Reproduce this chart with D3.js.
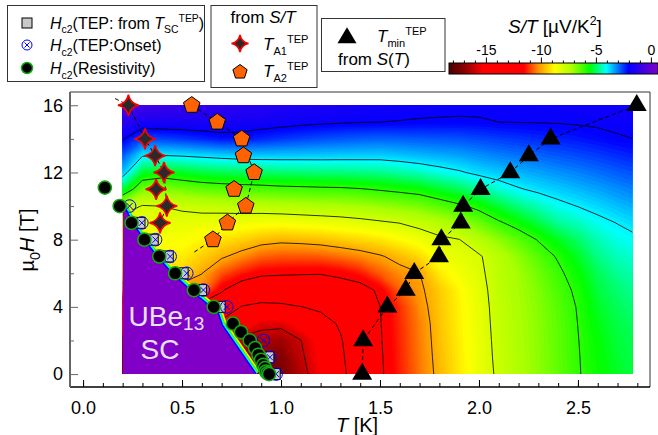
<!DOCTYPE html>
<html><head><meta charset="utf-8">
<script src="https://cdn.jsdelivr.net/npm/d3@7/dist/d3.min.js"></script>
<style>
body{margin:0;background:#fff;}
svg{display:block;}
text{font-family:"Liberation Sans",Arial,Helvetica,sans-serif;fill:#000;}
</style></head><body>
<svg id="chart" width="658" height="435"></svg>
<script>
// ---------- S/T map (µV/K^2), rows = field H (T), columns = temperature T (K) ----------
const gridT = [0.2,0.3,0.4,0.5,0.6,0.7,0.8,0.9,1.0,1.1,1.2,1.3,1.4,1.5,1.6,1.7,1.8,1.9,2.0,2.1,2.2,2.3,2.4,2.5,2.6,2.7,2.8];
const gridH = [0,1,2,3,4,5,6,7,8,9,10,11,12,13,14,15,16];
const sOverT = [
 [-17.1,-17.1,-17.1,-17.1,-17.1,-17.1,-17.1,-17.1,-17.35,-16.4,-15.3,-14.3,-13.3,-12.15,-11.35,-10.55,-9.78,-9.1,-8.45,-7.85,-7.35,-6.95,-6.52,-6.05,-5.7,-5.4,-5.2],
 [-16.9,-16.9,-16.9,-16.9,-16.9,-16.9,-16.9,-16.9,-17.2,-16.2,-15.15,-14.2,-13.23,-12.12,-11.31,-10.52,-9.72,-9.06,-8.43,-7.8,-7.32,-6.94,-6.5,-6.04,-5.65,-5.33,-5.13],
 [-16.46,-16.46,-16.46,-16.46,-16.46,-16.46,-16.46,-16.46,-16.73,-16.02,-15.0,-14.1,-13.17,-12.08,-11.28,-10.48,-9.67,-9.02,-8.41,-7.76,-7.3,-6.92,-6.49,-6.02,-5.6,-5.27,-5.07],
 [-14.45,-14.45,-14.45,-14.45,-14.45,-14.45,-14.45,-15.7,-15.69,-15.05,-14.44,-13.87,-13.1,-12.05,-11.24,-10.45,-9.61,-8.98,-8.38,-7.72,-7.28,-6.9,-6.47,-5.99,-5.5,-5.2,-5.0],
 [-12.6,-12.6,-12.6,-12.6,-12.6,-12.6,-14.06,-14.33,-14.26,-14.02,-13.8,-13.2,-12.65,-12.01,-11.2,-10.31,-9.56,-8.94,-8.35,-7.68,-7.25,-6.87,-6.42,-5.95,-5.4,-5.08,-4.85],
 [-10.42,-10.42,-10.42,-10.42,-10.42,-11.9,-12.7,-13.02,-13.02,-12.96,-12.88,-12.54,-12.45,-11.8,-10.75,-10.16,-9.5,-8.9,-8.3,-7.62,-7.2,-6.8,-6.3,-5.85,-5.25,-4.95,-4.7],
 [-9.4,-9.4,-9.4,-9.4,-9.98,-10.86,-11.4,-11.79,-11.86,-11.91,-11.94,-11.79,-11.42,-10.79,-10.3,-10.02,-9.06,-8.6,-8.2,-7.55,-7.15,-6.65,-6.15,-5.65,-5.1,-4.73,-4.55],
 [-9.0,-9.0,-9.0,-9.04,-9.45,-9.88,-10.31,-10.72,-10.84,-10.84,-10.79,-10.6,-10.37,-10.09,-9.71,-9.31,-8.62,-8.31,-8.1,-7.5,-6.95,-6.4,-5.92,-5.4,-4.83,-4.5,-4.32],
 [-8.6,-8.6,-8.67,-8.68,-8.93,-9.18,-9.39,-9.67,-9.8,-9.74,-9.64,-9.47,-9.32,-9.12,-8.85,-8.54,-8.18,-8.02,-7.45,-6.95,-6.45,-5.95,-5.45,-5.0,-4.55,-4.24,-4.09],
 [-8.5,-8.5,-8.33,-8.32,-8.4,-8.49,-8.54,-8.62,-8.63,-8.56,-8.49,-8.4,-8.28,-8.13,-7.98,-7.71,-7.42,-7.1,-6.6,-6.11,-5.69,-5.22,-4.72,-4.5,-4.18,-3.98,-3.78],
 [-7.5,-8.05,-7.99,-7.86,-7.71,-7.64,-7.57,-7.52,-7.45,-7.39,-7.33,-7.28,-7.18,-7.04,-6.89,-6.72,-6.43,-6.13,-5.78,-5.29,-4.87,-4.51,-4.19,-3.98,-3.8,-3.59,-3.42],
 [-5.2,-6.73,-6.85,-6.69,-6.52,-6.43,-6.37,-6.32,-6.24,-6.2,-6.16,-6.13,-6.05,-5.93,-5.8,-5.67,-5.37,-5.11,-4.75,-4.37,-4.06,-3.86,-3.7,-3.54,-3.38,-3.21,-3.05],
 [-3.6,-5.36,-5.6,-5.41,-5.24,-5.15,-5.07,-5.02,-4.96,-4.93,-4.9,-4.88,-4.84,-4.8,-4.66,-4.49,-4.27,-4.08,-3.84,-3.67,-3.52,-3.38,-3.24,-3.11,-2.97,-2.82,-2.69],
 [-2.8,-3.95,-4.02,-3.96,-3.87,-3.78,-3.71,-3.69,-3.69,-3.7,-3.7,-3.72,-3.73,-3.74,-3.66,-3.56,-3.47,-3.39,-3.24,-3.11,-3.0,-2.89,-2.78,-2.67,-2.56,-2.43,-2.32],
 [-1.95,-2.69,-2.6,-2.5,-2.37,-2.23,-2.24,-2.38,-2.5,-2.61,-2.7,-2.77,-2.83,-2.87,-2.84,-2.8,-2.76,-2.73,-2.65,-2.56,-2.49,-2.4,-2.32,-2.24,-2.14,-2.04,-1.99],
 [-1.2,-1.6,-1.58,-1.58,-1.59,-1.61,-1.66,-1.71,-1.78,-1.85,-1.9,-1.94,-1.98,-2.0,-2.02,-2.05,-2.06,-2.07,-2.05,-2.0,-1.99,-1.98,-1.97,-1.95,-1.93,-1.91,-1.88],
 [-0.4,-0.7,-0.85,-0.95,-1.05,-1.15,-1.25,-1.3,-1.4,-1.5,-1.55,-1.6,-1.7,-1.75,-1.8,-1.82,-1.85,-1.87,-1.88,-1.88,-1.88,-1.88,-1.87,-1.85,-1.83,-1.8,-1.78]
];
const mapT = [0.2, 2.775];          // measured T range of the map
const mapH = [0, 16];               // measured H range of the map
const contourLevels = [-16,-14,-12,-10,-8,-6,-4,-2];
const scValue = 0.6;                // S/T inside the superconducting state
// superconducting region edge (T, H)
const scEdgeT = [0.2, 0.245, 0.305, 0.37, 0.445, 0.537, 0.64, 0.68, 0.70, 0.87];
const scEdgeH = [10.15, 9.0, 8.0, 7.0, 6.0, 5.0, 4.0, 3.6, 2.9, 0];

// ---------- markers ----------
const rhoT = [0.11,0.185,0.245,0.31,0.385,0.465,0.56,0.66,0.757,0.798,0.842,0.869,0.886,0.899,0.91,0.919,0.924,0.932,0.94];
const rhoH = [11.1,10,9,8,7,6,5,4,3,2.5,2,1.55,1.15,0.85,0.55,0.35,0.15,0.05,0];
const tscT = [0.285,0.352,0.428,0.503,0.596,0.69,0.936,0.968];
const tscH = [9,8,7,6,5,4,1,0];
const onsetT = [0.235,0.297,0.366,0.44,0.524,0.608,0.726,0.911,0.944,0.975];
const onsetH = [10,9,8,7,6,5,4,2,1,0];
const a1T = [0.229,0.313,0.364,0.409,0.369,0.423,0.389];
const a1H = [16,14,13,12,11,10,9];
const a1GuideT = [0.162,0.229,0.313,0.364,0.409,0.423,0.389];
const a1GuideH = [16.4,16,14,13,12,10,9];
const a2T = [0.549,0.678,0.801,0.81,0.864,0.763,0.822,0.729,0.656];
const a2H = [16,15,14,13,12,11,10,9,8];
const a2GuideT = [0.549,0.678,0.801,0.864,0.822,0.729,0.656,0.554];
const a2GuideH = [16,15,14,12,10,9,8,7.2];
const tminT = [1.41,1.415,1.537,1.63,1.673,1.798,1.81,1.908,1.92,2.008,2.158,2.252,2.362,2.797];
const tminH = [0,2,4,5,6,7,8,9,10,11,12,13,14,16];

// ---------- colour table & ticks ----------
const cmapVals = [-18.4,-17,-15.3,-11.6,-10.3,-8.8,-7.2,-5.6,-4.1,-2.1,0.6];
const cmapCols = ["#4a0000","#8b0000","#ff0000","#ff0000","#ff9000","#ffff00","#a8ff00","#00ff00","#00ffff","#0000ff","#8000c8"];
const cbRange = [-18.4, 0.6];
const cbTicks = [-15,-10,-5,0];
const cbTickLabels = ["-15","-10","-5","0"];
const xTicks = [0,0.5,1.0,1.5,2.0,2.5];
const xTickLabels = ["0.0","0.5","1.0","1.5","2.0","2.5"];
const yTicks = [0,4,8,12,16];
const yTickLabels = ["0","4","8","12","16"];
const yMinorTicks = [2,6,10,14];

// ================== drawing ==================
const svg = d3.select('#chart');
const x = d3.scaleLinear().domain([-0.066, 2.864]).range([70, 650]);
const y = d3.scaleLinear().domain([-0.77, 16.79]).range([387, 92]);
const color = d3.scaleLinear().domain(cmapVals).range(cmapCols).clamp(true);

const defs = svg.append('defs');
defs.append('clipPath').attr('id','mapClip').append('rect')
  .attr('x', x(mapT[0])).attr('y', y(mapH[1]))
  .attr('width', x(mapT[1]) - x(mapT[0])).attr('height', y(mapH[0]) - y(mapH[1]));

const nx = gridT.length, ny = gridH.length;
const dT = gridT[1]-gridT[0], dH = gridH[1]-gridH[0];
const flat = [].concat(...sOverT);
const gridProj = d3.geoTransform({point: function(px, py){
  this.stream.point(x(gridT[0] + (px-0.5)*dT), y(gridH[0] + (py-0.5)*dH));
}});
const gpath = d3.geoPath(gridProj);

const map = svg.append('g').attr('clip-path','url(#mapClip)');
const fillStep = 0.1;
const fillThr = d3.range(-18.2, 0.0001, fillStep);
const bands = d3.contours().size([nx, ny]).thresholds(fillThr)(flat);
map.selectAll('path.band').data(bands).join('path').attr('class','band')
  .attr('d', gpath).attr('fill', d => color(d.value + fillStep/2)).attr('stroke','none');

const lines = d3.contours().size([nx, ny]).thresholds(contourLevels)(flat);
map.selectAll('path.cl').data(lines).join('path').attr('class','cl')
  .attr('d', gpath).attr('fill','none').attr('stroke','#000').attr('stroke-width',0.8);

// superconducting region with its thin colour fringe
const edgePts = d3.zip(scEdgeT, scEdgeH);
const edgeLine = d3.line().x(d => x(d[0])).y(d => y(d[1]));
[[-9,11],[-6,8],[-4,5.5],[-2,3]].forEach(([v,w]) => {
  map.append('path').attr('d', edgeLine(edgePts)).attr('fill','none')
    .attr('stroke', color(v)).attr('stroke-width', w).attr('stroke-linejoin','round');
});
const scPoly = [[mapT[0], mapH[0]]].concat(edgePts);
map.append('path').attr('d', edgeLine(scPoly) + 'Z').attr('fill', color(scValue));

// SC label
const scLab = svg.append('text').attr('x', x(0.23)).attr('y', y(2.85)).attr('font-size', 28).style('fill','#e8e0f4');
scLab.append('tspan').text('UBe');
scLab.append('tspan').text('13').attr('font-size', 19).attr('dy', 4);
svg.append('text').attr('x', x(0.29)).attr('y', y(0.9)).attr('font-size', 28).style('fill','#e8e0f4').text('SC');

// guide lines
const dl = d3.line().x(d => x(d[0])).y(d => y(d[1]));
[[a1GuideT,a1GuideH],[a2GuideT,a2GuideH],[tminT,tminH]].forEach(([tt,hh]) => {
  svg.append('path').attr('d', dl(d3.zip(tt,hh))).attr('fill','none')
    .attr('stroke','#000').attr('stroke-width',1).attr('stroke-dasharray','4,3');
});

// marker shapes
function star4(R){ const k=R*0.17; return `M0,${-R}Q${k},${-k} ${R},0Q${k},${k} 0,${R}Q${-k},${k} ${-R},0Q${-k},${-k} 0,${-R}Z`; }
function pentagon(r){ return d3.range(5).map(i => { const a = -Math.PI/2 + i*2*Math.PI/5; return (i?'L':'M') + (r*Math.cos(a)).toFixed(2) + ',' + (r*Math.sin(a)).toFixed(2); }).join('') + 'Z'; }
function triangle(w,h){ return `M0,${-h*2/3}L${w/2},${h/3}L${-w/2},${h/3}Z`; }
function drawSquare(g, s){ g.append('rect').attr('x',-s/2).attr('y',-s/2).attr('width',s).attr('height',s).attr('fill','#c9c9c9').attr('stroke','#000').attr('stroke-width',1); }
function drawOnset(g, r){ g.append('circle').attr('r',r).attr('fill','none').attr('stroke','#0000ff').attr('stroke-width',1);
  const k=r*0.5; g.append('path').attr('d',`M${-k},${-k}L${k},${k}M${-k},${k}L${k},${-k}`).attr('stroke','#0000ff').attr('stroke-width',1); }
function drawRho(g, r){ g.append('circle').attr('r',r).attr('fill','#000').attr('stroke','#14a814').attr('stroke-width',1.5); }
function drawStar(g, R){ g.append('path').attr('d',star4(R)).attr('fill','#2a2a2a').attr('stroke','#ff0000').attr('stroke-width',1.6); }
function drawPent(g, r){ g.append('path').attr('d',pentagon(r)).attr('fill','#ff6200').attr('stroke','#000').attr('stroke-width',1); }
function drawTri(g, w, h){ g.append('path').attr('d',triangle(w,h)).attr('fill','#000'); }

function plotMarks(tt, hh, fn){
  const gg = svg.append('g');
  d3.zip(tt,hh).forEach(d => fn(gg.append('g').attr('transform',`translate(${x(d[0])},${y(d[1])})`)));
}
plotMarks(tscT, tscH, g => drawSquare(g, 11));
plotMarks(onsetT, onsetH, g => drawOnset(g, 6.3));
plotMarks(rhoT, rhoH, g => drawRho(g, 6.6));
plotMarks(a1T, a1H, g => drawStar(g, 10.5));
plotMarks(a2T, a2H, g => drawPent(g, 8.7));
plotMarks(tminT, tminH, g => drawTri(g, 20, 17));

// ---------- axes ----------
const frame = svg.append('g');
frame.append('line').attr('x1',70).attr('x2',650).attr('y1',92).attr('y2',92).attr('stroke','#333').attr('stroke-width',1);
frame.append('line').attr('x1',650).attr('x2',650).attr('y1',92).attr('y2',387).attr('stroke','#333').attr('stroke-width',1);

const xMinor = d3.range(0, 2.81, 0.1);
svg.append('g').attr('transform','translate(0,387)')
  .call(d3.axisBottom(x).tickValues(xMinor).tickSize(-4).tickFormat(''))
  .call(g => g.select('.domain').remove());
const xa = svg.append('g').attr('transform','translate(0,387)')
  .call(d3.axisBottom(x).tickValues(xTicks).tickSize(-7).tickPadding(14).tickFormat((d,i) => xTickLabels[i]));
xa.select('.domain').attr('d','M70,0H650').attr('stroke','#000').attr('stroke-width',1.5);
xa.selectAll('text').attr('font-size',18).attr('font-family','"Liberation Sans",Arial,sans-serif');

svg.append('g').attr('transform','translate(70,0)')
  .call(d3.axisLeft(y).tickValues(yMinorTicks).tickSize(-4).tickFormat(''))
  .call(g => g.select('.domain').remove())
  .selectAll('line').attr('stroke','#666');
const ya = svg.append('g').attr('transform','translate(70,0)')
  .call(d3.axisLeft(y).tickValues(yTicks).tickSize(-8).tickPadding(7).tickFormat((d,i) => yTickLabels[i]));
ya.select('.domain').attr('d','M0,92V387').attr('stroke','#666').attr('stroke-width',2);
ya.selectAll('line').attr('stroke','#666');
ya.selectAll('text').attr('font-size',18).attr('font-family','"Liberation Sans",Arial,sans-serif');

// rich text helper (italic / sub / sup)
function rich(parent, xx, yy, fs, parts, anchor, sf){
  sf = sf || 0.65;
  const t = parent.append('text').attr('x',xx).attr('y',yy).attr('font-size',fs);
  if (anchor) t.attr('text-anchor',anchor);
  let cur = 0;
  parts.forEach(p => {
    const sh = p.sub ? fs*0.3 : (p.sup ? -fs*0.42 : 0);
    const ts = t.append('tspan').text(p.t).attr('dy', sh - cur);
    cur = sh;
    if (p.sub || p.sup) ts.attr('font-size', fs*sf);
    if (p.it) ts.style('font-style','italic');
  });
  return t;
}
rich(svg, 357, 432, 20, [{t:'T',it:1},{t:' [K]'}], 'middle');
const yt = svg.append('g').attr('transform','translate(34,240) rotate(-90)');
rich(yt, 0, 0, 20, [{t:'µ'},{t:'0',sub:1},{t:'H',it:1},{t:' [T]'}], 'middle', 0.72);

// ---------- legends ----------
function box(x0,y0,w,h){ svg.append('rect').attr('x',x0).attr('y',y0).attr('width',w).attr('height',h).attr('fill','#fff').attr('stroke','#333').attr('stroke-width',1); }
box(7.5,5.5,197,76);
drawSquare(svg.append('g').attr('transform','translate(27,23)'), 10);
drawOnset(svg.append('g').attr('transform','translate(27,45)'), 5);
drawRho(svg.append('g').attr('transform','translate(27,68)'), 5.5);
rich(svg, 50, 28.5, 16, [{t:'H',it:1},{t:'c2',sub:1},{t:'(TEP: from '},{t:'T',it:1},{t:'SC',sub:1},{t:'TEP',sup:1},{t:')'}]);
rich(svg, 50, 51, 16, [{t:'H',it:1},{t:'c2',sub:1},{t:'(TEP:Onset)'}]);
rich(svg, 50, 74, 16, [{t:'H',it:1},{t:'c2',sub:1},{t:'(Resistivity)'}]);

box(211,5.5,106,82);
rich(svg, 263, 23, 17, [{t:'from '},{t:'S/T',it:1}], 'middle');
drawStar(svg.append('g').attr('transform','translate(240,43.5)'), 8.5);
drawPent(svg.append('g').attr('transform','translate(240,72)'), 7.5);
rich(svg, 263, 50, 17, [{t:'T',it:1},{t:'A1',sub:1},{t:'TEP',sup:1}]);
rich(svg, 263, 77, 17, [{t:'T',it:1},{t:'A2',sub:1},{t:'TEP',sup:1}]);

box(321.5,18.5,123.5,53);
drawTri(svg.append('g').attr('transform','translate(347,38)'), 19, 16);
rich(svg, 377, 42, 17, [{t:'T',it:1},{t:'min',sub:1},{t:'TEP',sup:1}]);
rich(svg, 338, 65, 17, [{t:'from '},{t:'S',it:1},{t:'('},{t:'T',it:1},{t:')'}]);

// ---------- colour bar ----------
const cb = d3.scaleLinear().domain(cbRange).range([449, 658]);
const grad = defs.append('linearGradient').attr('id','cbGrad').attr('x1','0%').attr('x2','100%');
cmapVals.forEach((v,i) => grad.append('stop')
  .attr('offset', ((v - cbRange[0])/(cbRange[1]-cbRange[0])*100) + '%').attr('stop-color', cmapCols[i]));
svg.append('rect').attr('x',cb(cbRange[0])).attr('y',63).attr('width',cb(cbRange[1])-cb(cbRange[0])).attr('height',11)
  .attr('fill','url(#cbGrad)').attr('stroke','#000').attr('stroke-width',1);
d3.range(-18, 0.5, 1).forEach(v => {
  const major = cbTicks.includes(v);
  svg.append('line').attr('x1',cb(v)).attr('x2',cb(v)).attr('y1',63).attr('y2', major ? 57.5 : 60.5).attr('stroke','#000').attr('stroke-width',1);
});
cbTicks.forEach((v,i) => svg.append('text').attr('x',cb(v)).attr('y',55).attr('text-anchor','middle').attr('font-size',14).text(cbTickLabels[i]));
rich(svg, 508, 33, 19, [{t:'S/T',it:1},{t:' [µV/K'},{t:'2',sup:1},{t:']'}]);
</script>
</body></html>
